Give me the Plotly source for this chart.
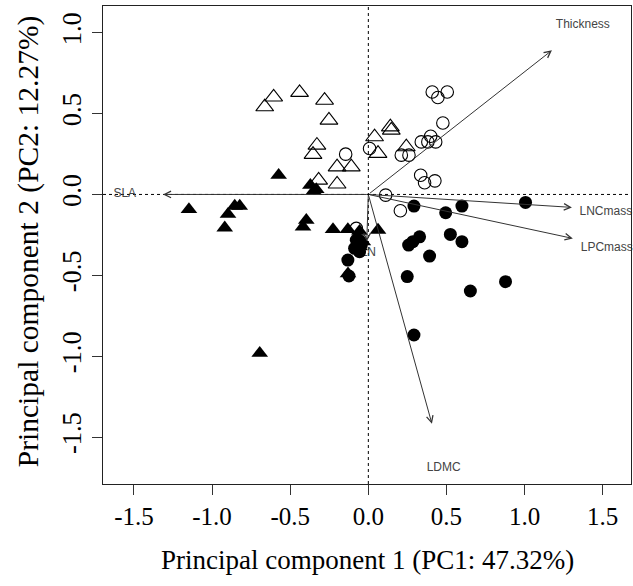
import plotly.graph_objects as go

# ---- data ----
open_tri_x = [-0.606, -0.663, -0.44, -0.28, -0.252, -0.329, -0.354, -0.2, -0.109, -0.318, -0.2,
              0.04, 0.062, 0.141, 0.147, 0.243]
open_tri_y = [0.602, 0.541, 0.63, 0.582, 0.459, 0.304, 0.247, 0.17, 0.17, 0.088, 0.064,
              0.356, 0.253, 0.417, 0.397, 0.294]

filled_tri_x = [-0.574, -0.371, -0.333, -0.35, -1.148, -0.855, -0.823, -0.898, -0.919, -0.397,
                -0.418, -0.226, -0.131, -0.695, -0.067, -0.035, -0.056, -0.056, 0.062, -0.13]
filled_tri_y = [0.119, 0.057, 0.031, 0.02, -0.093, -0.072, -0.072, -0.122, -0.206, -0.159,
                -0.2, -0.216, -0.216, -0.981, -0.262, -0.292, -0.323, -0.227, -0.22, -0.49]

open_circ_x = [-0.145, 0.008, 0.409, 0.445, 0.505, 0.477, 0.339, 0.399, 0.381, 0.431, 0.211,
               0.26, 0.335, 0.36, 0.426, 0.111, 0.205, -0.077]
open_circ_y = [0.249, 0.284, 0.633, 0.599, 0.633, 0.442, 0.325, 0.36, 0.325, 0.325, 0.243,
               0.243, 0.119, 0.072, 0.084, -0.004, -0.101, -0.21]

filled_circ_x = [0.292, 0.495, 0.599, 1.006, 0.328, 0.285, 0.258, 0.525, 0.599, 0.392, 0.249,
                 0.878, 0.653, 0.292, -0.077, -0.045, -0.088, -0.056, -0.131, -0.124]
filled_circ_y = [-0.072, -0.113, -0.072, -0.049, -0.262, -0.292, -0.313, -0.247, -0.292, -0.381,
                 -0.508, -0.539, -0.597, -0.869, -0.282, -0.313, -0.333, -0.354, -0.406, -0.504]

vec_names = ["Thickness", "SLA", "LNCmass", "LPCmass", "LDMC", "LN"]
vec_x = [1.175, -1.314, 1.303, 1.309, 0.407, -0.01]
vec_y = [0.891, 0.0, -0.080, -0.272, -1.418, -0.29]
lab_x = [1.373, -1.559, 1.52, 1.526, 0.482, 0.0]
lab_y = [1.045, 0.0, -0.107, -0.333, -1.688, -0.36]

x_ticks = [-1.5, -1.0, -0.5, 0.0, 0.5, 1.0, 1.5]
y_ticks = [-1.5, -1.0, -0.5, 0.0, 0.5, 1.0]
x_title = "Principal component 1 (PC1: 47.32%)"
y_title = "Principal component 2 (PC2: 12.27%)"

# ---- figure ----
fig = go.Figure()

# variable labels (drawn beneath the points)
fig.add_trace(go.Scatter(x=lab_x, y=lab_y, mode="text", text=vec_names,
                         textfont=dict(family="Liberation Sans, Arial", size=12, color="#444444"),
                         cliponaxis=False, showlegend=False, hoverinfo="skip"))

fig.add_trace(go.Scatter(x=open_tri_x, y=open_tri_y, mode="markers", showlegend=False,
                         marker=dict(symbol="triangle-up-open", size=15.5, color="black",
                                     line=dict(width=1.1, color="black"))))
fig.add_trace(go.Scatter(x=filled_tri_x, y=filled_tri_y, mode="markers", showlegend=False,
                         marker=dict(symbol="triangle-up", size=14.5, color="black",
                                     line=dict(width=0))))
fig.add_trace(go.Scatter(x=open_circ_x, y=open_circ_y, mode="markers", showlegend=False,
                         marker=dict(symbol="circle-open", size=12.5, color="black",
                                     line=dict(width=1.1, color="black"))))
fig.add_trace(go.Scatter(x=filled_circ_x, y=filled_circ_y, mode="markers", showlegend=False,
                         marker=dict(symbol="circle", size=13, color="black",
                                     line=dict(width=0))))

# dotted reference lines
fig.add_shape(type="line", xref="paper", yref="y", x0=0, x1=1, y0=0, y1=0,
              line=dict(color="black", width=1, dash="dot"), layer="below")
fig.add_shape(type="line", xref="x", yref="paper", x0=0, x1=0, y0=0, y1=1,
              line=dict(color="black", width=1, dash="dot"), layer="below")

# loading arrows
for vx, vy in zip(vec_x, vec_y):
    fig.add_annotation(x=vx, y=vy, ax=0, ay=0, xref="x", yref="y", axref="x", ayref="y",
                       showarrow=True, arrowhead=5, arrowsize=1.3, arrowwidth=1,
                       arrowcolor="#333333", text="")

axis_common = dict(showgrid=False, zeroline=False, showline=True, mirror=True, automargin=False,
                   linecolor="#222222", linewidth=1.3, ticks="outside", ticklen=10,
                   tickwidth=1.3, tickcolor="#333333")

fig.update_xaxes(range=[-1.698, 1.681], tickvals=x_ticks,
                 ticktext=[f"{v:.1f}" for v in x_ticks],
                 tickfont=dict(family="Liberation Serif, Times New Roman", size=25, color="black"),
                 **axis_common)
fig.update_yaxes(range=[-1.79, 1.165], tickvals=y_ticks,
                 ticktext=[f"{v:.1f}" for v in y_ticks], tickangle=-90,
                 tickfont=dict(family="Liberation Serif, Times New Roman", size=26.5, color="black"),
                 **axis_common)

fig.add_annotation(text=x_title, xref="paper", yref="paper", x=0.5, y=-0.158,
                   xanchor="center", yanchor="middle", showarrow=False,
                   font=dict(family="Liberation Serif, Times New Roman", size=27, color="black"))
fig.add_annotation(text=y_title, xref="paper", yref="paper", x=-0.142, y=0.506,
                   xanchor="center", yanchor="middle", showarrow=False, textangle=-90,
                   font=dict(family="Liberation Serif, Times New Roman", size=29.5, color="black"))

fig.update_layout(width=633, height=586, plot_bgcolor="white", paper_bgcolor="white",
                  margin=dict(l=103, r=2, t=6, b=102), showlegend=False)

fig.write_html("out.html", config={"displayModeBar": False},
               post_script="document.body.style.margin='0';document.body.style.padding='0';")
